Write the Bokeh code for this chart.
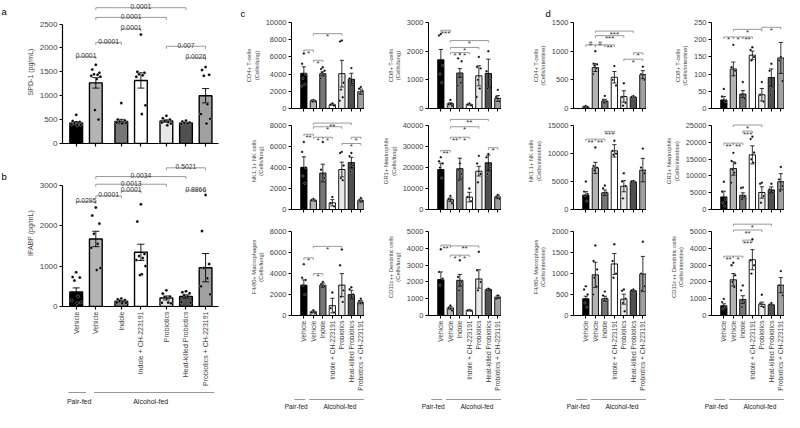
import math
from bokeh.plotting import figure
from bokeh.models import FixedTicker, Range1d, Title
from bokeh.layouts import row, column
from bokeh.embed import file_html
from bokeh.resources import INLINE
from bokeh.core.properties import value

FONT = "Liberation Sans"

# ---------------- shared categories ----------------
treatments = ["Vehicle", "Vehicle", "Indole", "Indole + CH-223191", "Probiotics",
              "Heat-killed Probiotics", "Probiotics + CH-223191"]
diet_names = ["Pair-fed", "Alcohol-fed"]
diet_first = [0, 1]
diet_last = [0, 6]

# ---------------- panel a : SPD-1 ----------------
spd1_ticks = [0, 500, 1000, 1500, 2000, 2500]
spd1_mean = [430, 1270, 460, 1320, 470, 430, 1000]
spd1_sem = [30, 110, 45, 160, 25, 15, 150]
spd1_points = [[600, 470, 450, 430, 420, 400, 390, 380],
               [1650, 1550, 1480, 1450, 1440, 1420, 1400, 1350, 700, 500],
               [850, 500, 480, 460, 450, 440, 430, 420],
               [2280, 1500, 1480, 1450, 1430, 1400, 800, 620],
               [580, 530, 500, 470, 450, 440, 420, 380],
               [480, 460, 440, 430, 420, 410],
               [1600, 1540, 1440, 1420, 820, 620, 520, 420]]
spd1_sig = [(0, 1, "0.0001", 1815), (1, 2, "0.0001", 2117), (2, 3, "0.0001", 2400),
            (1, 4, "0.0001", 2640), (1, 5, "0.0001", 2843), (4, 6, "0.007", 2036),
            (5, 6, "0.0026", 1794)]

# ---------------- panel b : IFABP ----------------
ifabp_ticks = [0, 1000, 2000, 3000]
ifabp_mean = [360, 1670, 130, 1340, 210, 250, 960]
ifabp_sem = [100, 190, 20, 200, 50, 40, 350]
ifabp_points = [[850, 730, 720, 640, 250, 150, 100, 80],
                [2450, 2250, 2050, 1800, 1550, 1450, 950, 900],
                [200, 180, 160, 140, 120, 100, 90, 80],
                [2530, 2100, 1300, 1250, 1200, 1150, 1000, 800, 780],
                [400, 320, 250, 230, 100, 90, 80],
                [380, 350, 330, 280, 250, 110, 90],
                [2760, 1870, 1050, 950, 700, 500, 300]]
ifabp_sig = [(0, 1, "0.0295", 2595), (1, 2, "0.0001", 2738), (2, 3, "0.0001", 2857),
             (1, 4, "0.0013", 3024), (1, 5, "0.0034", 3214), (4, 6, "0.5021", 3430),
             (5, 6, "0.8866", 2880)]

# ---------------- panel c : lung ----------------
cd4_lung_ticks = [0, 2000, 4000, 6000, 8000, 10000]
cd4_lung_mean = [4100, 900, 4050, 450, 4050, 3400, 1950]
cd4_lung_sem = [750, 100, 250, 80, 1550, 700, 300]
cd4_lung_points = [[6400, 5200, 4000, 3500, 2800, 2600], [1000, 900, 850, 800],
                   [4800, 4600, 4400, 4200, 3800, 3500], [600, 450, 350],
                   [7900, 7800, 3000, 2200, 1300, 900], [4700, 3500, 2900, 2600],
                   [2500, 2300, 2000, 1700]]
cd4_lung_sig = [(0, 1, "*", 6800), (1, 2, "*", 5600), (1, 4, "*", 8700)]

cd8_lung_ticks = [0, 1000, 2000, 3000]
cd8_lung_mean = [1700, 170, 1240, 140, 1140, 1220, 350]
cd8_lung_sem = [360, 30, 150, 20, 350, 500, 100]
cd8_lung_points = [[2600, 2550, 1500, 1200, 900], [300, 150, 100],
                   [1900, 1750, 1650, 1200, 900, 800], [180, 140, 110],
                   [1800, 1450, 1400, 1000, 700, 400], [2000, 1300, 1000, 700],
                   [650, 400, 250]]
cd8_lung_sig = [(0, 1, "***", 2730), (1, 2, "*", 1950), (2, 3, "*", 1950),
                (1, 4, "*", 2130), (1, 5, "*", 2370)]

nk_lung_ticks = [0, 2000, 4000, 6000, 8000]
nk_lung_mean = [4030, 900, 3480, 640, 3820, 4480, 850]
nk_lung_sem = [1000, 80, 850, 300, 700, 500, 150]
nk_lung_points = [[6450, 5500, 4000, 3200, 2500], [1000, 900, 800],
                  [6450, 3800, 3000, 2700], [1200, 600, 300],
                  [5500, 5400, 4200, 3000, 2800], [5400, 5100, 4200, 3600],
                  [1100, 900, 800]]
nk_lung_sig = [(0, 1, "**", 7180), (1, 2, "*", 6900), (2, 3, "*", 6900),
               (1, 4, "*", 7900), (1, 5, "**", 8250), (5, 6, "*", 6900), (4, 6, "*", 6300)]

gr1_lung_ticks = [0, 10000, 20000, 30000, 40000]
gr1_lung_mean = [19100, 4700, 19500, 5900, 18300, 22300, 6000]
gr1_lung_sem = [3000, 800, 5000, 2300, 2300, 3600, 800]
gr1_lung_points = [[25000, 23000, 22000, 20000, 15000], [6500, 5000, 3000],
                   [22000, 19000, 17000, 14000], [10000, 6000, 4000],
                   [25600, 22000, 17000, 13000], [26500, 25000, 20000, 17000],
                   [7000, 6000, 5000]]
gr1_lung_sig = [(0, 1, "**", 28200), (1, 2, "**", 34500), (2, 3, "*", 34500),
                (1, 4, "*", 39500), (1, 5, "**", 43000), (5, 6, "*", 29500)]

f480_lung_ticks = [0, 2000, 4000, 6000, 8000]
f480_lung_mean = [2900, 360, 2900, 940, 2900, 2000, 1270]
f480_lung_sem = [500, 60, 200, 700, 1100, 400, 150]
f480_lung_points = [[4900, 3600, 3400, 2900, 2000], [500, 300, 250], [3200, 3000, 2800],
                    [2200, 700, 300], [6300, 4800, 2400, 1800, 1300],
                    [2700, 2500, 2000, 1500], [1600, 1400, 1200]]
f480_lung_sig = [(0, 1, "*", 5500), (1, 2, "*", 4000), (1, 4, "*", 6600)]

cd11c_lung_ticks = [0, 1000, 2000, 3000, 4000, 5000]
cd11c_lung_mean = [2150, 450, 2100, 300, 2180, 1550, 1100]
cd11c_lung_sem = [450, 80, 350, 30, 550, 60, 80]
cd11c_lung_points = [[3950, 2600, 2200, 1800], [600, 450, 300], [3300, 2300, 2000, 1500],
                     [330, 300, 280], [3800, 2700, 2000, 1500], [1600, 1500], [1200, 1000]]
cd11c_lung_sig = [(0, 1, "**", 4200), (1, 2, "*", 3600), (2, 3, "*", 3600), (1, 4, "**", 4150)]

# ---------------- panel d : intestine ----------------
cd4_int_ticks = [0, 500, 1000, 1500]
cd4_int_mean = [30, 715, 130, 545, 210, 200, 590]
cd4_int_sem = [8, 70, 30, 100, 100, 10, 70]
cd4_int_points = [[45, 30, 20], [1000, 780, 770, 750, 700, 600], [220, 150, 120, 100],
                  [740, 500, 400], [440, 200, 100, 50], [220, 200, 190], [730, 600, 500]]
cd4_int_sig = [(0, 1, "#", 1110), (1, 2, "#", 1110), (2, 3, "**", 1110),
               (1, 4, "***", 1270), (1, 5, "***", 1350), (4, 6, "*", 860), (5, 6, "*", 970)]

cd8_int_ticks = [0, 50, 100, 150, 200, 250]
cd8_int_mean = [25, 115, 42, 155, 40, 90, 147]
cd8_int_sem = [10, 20, 10, 12, 18, 25, 45]
cd8_int_points = [[57, 35, 20], [185, 120, 110], [77, 40, 30], [178, 170, 150, 140],
                  [77, 40, 20], [130, 110, 60, 40], [150, 140, 80]]
cd8_int_sig = [(0, 1, "*", 208), (1, 2, "*", 208), (2, 3, "**", 208),
               (1, 4, "*", 230), (4, 6, "*", 236)]

nk_int_ticks = [0, 5000, 10000, 15000]
nk_int_mean = [2600, 7450, 3000, 10500, 4170, 4950, 7050]
nk_int_sem = [600, 1000, 500, 1100, 1000, 150, 2100]
nk_int_points = [[5000, 3200, 2800, 2500, 1500], [11100, 7800, 7500, 7000],
                 [4300, 3800, 3000, 2500], [12300, 10500, 10000, 9800],
                 [6500, 5000, 4200, 2000], [5100, 5000, 4800], [10900, 7500, 6500]]
nk_int_sig = [(0, 1, "**", 12600), (1, 2, "**", 12600), (2, 3, "***", 14000)]

gr1_int_ticks = [0, 5000, 10000, 15000, 20000, 25000]
gr1_int_mean = [3760, 12240, 4240, 16300, 5080, 5850, 8280]
gr1_int_sem = [1700, 2000, 750, 2700, 1700, 900, 2400]
gr1_int_points = [[8300, 5300, 3000, 2000, 1000], [16900, 14500, 13800, 12000, 11000, 8000],
                  [6600, 6400, 4000, 3000], [21700, 21000, 17000, 15000, 14000],
                  [8000, 7700, 4000, 2000], [7700, 6000, 5000], [12700, 9000, 7000, 5500]]
gr1_int_sig = [(0, 1, "**", 19800), (1, 2, "**", 19800), (2, 3, "***", 23400), (1, 4, "*", 25200)]

f480_int_ticks = [0, 500, 1000, 1500, 2000]
f480_int_mean = [400, 970, 400, 1230, 390, 590, 990]
f480_int_sem = [60, 300, 60, 250, 120, 15, 420]
f480_int_points = [[700, 620, 500, 300, 200], [1670, 1300, 1100, 900, 700, 500],
                   [570, 480, 400, 350], [1700, 1300, 1000, 900], [620, 590, 400, 300, 100],
                   [620, 600, 580], [1760, 1000, 700, 600]]
f480_int_sig = []

cd11c_int_ticks = [0, 1000, 2000, 3000, 4000, 5000]
cd11c_int_mean = [580, 2130, 950, 3330, 670, 640, 1810]
cd11c_int_sem = [120, 370, 230, 600, 130, 30, 450]
cd11c_int_points = [[990, 800, 500, 400], [3150, 3000, 2400, 2000, 1700], [1800, 1500, 800, 500],
                    [4550, 3300, 3000, 2500], [1240, 700, 500], [750, 650, 600], [2650, 1800, 1200]]
cd11c_int_sig = [(0, 1, "**", 3540), (1, 2, "*", 3540), (2, 3, "***", 4500),
                 (1, 4, "**", 5100), (1, 5, "*", 5450)]

# ---------------- styling / layout ----------------
BAR_COLORS = ["#000000", "#b4b4b4", "#767676", "#ffffff", "#e8e8e8", "#505050", "#a0a0a0"]
X_WIDE = [0, 1, 2.3, 3.3, 4.6, 5.6, 6.6]
X_NARROW = [0, 1, 2, 3, 4, 5, 6]
JIT = [0.0, -0.28, 0.28, -0.14, 0.14, -0.36, 0.36, 0.07, -0.07, 0.21, -0.21]

BIG = dict(bar_w=0.65, lw=1.4, ew=0.9, cap=0.18, dot=3.0, tick_fs="8px", ylab_fs="7px",
           sig_fs="6.8px", star_fs="8px", cat_fs="7px", tick_len=2.5, axis_w=1.2,
           diet_fs="7px", pair_dx=0.15, pair_pad=(0.4, 0.5), alc_dx=0.0, alc_pad=(0.1, 0.45))
SMALL = dict(bar_w=0.66, lw=0.9, ew=0.8, cap=0.22, dot=2.4, tick_fs="7.5px", ylab_fs="5.8px",
             sig_fs="6.5px", star_fs="8px", cat_fs="6.6px", tick_len=2.0, axis_w=1.0,
             diet_fs="6.6px", pair_dx=-0.8, pair_pad=(1.0, 0.15), alc_dx=0.3, alc_pad=(0.45, 0.4))


def base_fig(w, h, xr, yr, bl=0, br=0, bt=0, bb=0, x_axis=True, y_axis=True):
    kw = {}
    if not x_axis:
        kw["x_axis_type"] = None
    if not y_axis:
        kw["y_axis_type"] = None
    p = figure(width=w, height=h, title=None, output_backend="svg", toolbar_location=None,
               x_range=xr, y_range=yr, min_border_left=bl, min_border_right=br,
               min_border_top=bt, min_border_bottom=bb, **kw)
    p.outline_line_color = None
    p.grid.visible = False
    p.background_fill_color = "white"
    p.border_fill_color = "white"
    return p


def x_range_of(g):
    frame_w = g["w"] - g["bl"] - g["br"]
    return g["x0"], g["x0"] + frame_w / g["ppu"]


def build_panel(xs, mean, sem, pts, sig, ticks, ylabel, g, s, cats=None, letter=None):
    w, h, bl, br, bt, bb = g["w"], g["h"], g["bl"], g["br"], g["bt"], g["bb"]
    frame_h = h - bt - bb
    top = ticks[-1]
    y_end = top * frame_h / g["tick_px"]
    x0, x1 = x_range_of(g)
    p = base_fig(w, h, Range1d(x0, x1), Range1d(0, y_end), bl, br, bt, bb)

    if letter is not None:
        lt, lx = letter
        p.add_layout(Title(text=lt, align="left", offset=lx - bl, standoff=8, text_font=FONT,
                           text_font_size="9.5px", text_font_style="normal",
                           text_color="black"), "above")

    p.vbar(x=xs, bottom=0, top=mean, width=s["bar_w"], fill_color=BAR_COLORS,
           line_color="black", line_width=s["lw"])
    lo = [m - e for m, e in zip(mean, sem)]
    hi = [m + e for m, e in zip(mean, sem)]
    p.segment(x0=xs, y0=lo, x1=xs, y1=hi, line_color="black", line_width=s["ew"])
    c = s["cap"]
    p.segment(x0=[x - c for x in xs] * 2, y0=hi + lo, x1=[x + c for x in xs] * 2, y1=hi + lo,
              line_color="black", line_width=s["ew"])
    dx, dy = [], []
    for i, vals in enumerate(pts):
        for k, v in enumerate(vals):
            dx.append(xs[i] + JIT[k % len(JIT)] * s["bar_w"])
            dy.append(v)
    p.scatter(dx, dy, size=s["dot"], color="black", line_color="white", line_width=0.3)

    tl = s["tick_len"] * y_end / frame_h
    mx, my = [], []
    nx, ny, nt, sx, sy, st = [], [], [], [], [], []
    for i, j, lab, y in sig:
        mx.append([xs[i], xs[i], xs[j], xs[j]])
        my.append([y - tl, y, y, y - tl])
        if lab.startswith("*"):
            sx.append((xs[i] + xs[j]) / 2); sy.append(y); st.append(lab)
        else:
            nx.append((xs[i] + xs[j]) / 2); ny.append(y); nt.append(lab)
    if mx:
        p.multi_line(mx, my, line_color="#808080", line_width=0.8)
    if nx:
        p.text(nx, ny, text=nt, text_font=value(FONT), text_font_size=s["sig_fs"],
               text_align="center", text_baseline="alphabetic", y_offset=-1, text_color="#333333")
    if sx:
        p.text(sx, sy, text=st, text_font=value(FONT), text_font_size=s["star_fs"],
               text_align="center", text_baseline="alphabetic", y_offset=3, text_color="#333333")

    yax = p.yaxis[0]
    yax.ticker = FixedTicker(ticks=ticks)
    yax.bounds = (0, top)
    yax.axis_label = ylabel
    yax.axis_label_text_font = FONT
    yax.axis_label_text_font_size = s["ylab_fs"]
    yax.axis_label_text_font_style = "normal"
    yax.axis_label_standoff = 3
    yax.major_label_text_font = FONT
    yax.major_label_text_font_size = s["tick_fs"]
    yax.major_label_standoff = 2
    yax.major_tick_out = 3
    yax.major_tick_in = 0
    yax.minor_tick_line_color = None
    yax.axis_line_width = s["axis_w"]
    yax.major_tick_line_width = s["axis_w"]

    xax = p.xaxis[0]
    xax.axis_line_width = s["axis_w"]
    if cats:
        xax.ticker = FixedTicker(ticks=xs)
        xax.major_tick_out = 3
        xax.major_tick_in = 0
        xax.minor_tick_line_color = None
        xax.major_tick_line_width = s["axis_w"]
        xax.major_label_overrides = {x: c for x, c in zip(xs, cats)}
        xax.major_label_orientation = math.pi / 2
        xax.major_label_text_font = FONT
        xax.major_label_text_font_size = s["cat_fs"]
        xax.major_label_standoff = 2
    else:
        # tick marks only (drawn as minor ticks, so no empty labels are produced)
        xax.ticker = FixedTicker(ticks=[], minor_ticks=xs)
        xax.minor_tick_out = 3
        xax.minor_tick_in = 0
        xax.minor_tick_line_color = "black"
        xax.minor_tick_line_width = s["axis_w"]
        xax.major_tick_line_color = None
    return p


def diet_fig(xs, g, h, frame_h, standoff, s):
    # same frame as the panel above (columns align frames); labels via the x axis
    x0, x1 = x_range_of(g)
    p = base_fig(g["w"], h, Range1d(x0, x1), Range1d(0, 1), g["bl"], g["br"], 0, h - frame_h,
                 y_axis=False)
    a0, a1 = diet_first
    b0, b1 = diet_last
    lx0 = [xs[a0] - s["pair_pad"][0], xs[a1] - s["alc_pad"][0]]
    lx1 = [xs[b0] + s["pair_pad"][1], xs[b1] + s["alc_pad"][1]]
    p.segment(x0=lx0, y0=[0.5, 0.5], x1=lx1, y1=[0.5, 0.5], line_color="#8c8c8c", line_width=0.9)
    tx = [(xs[a0] + xs[b0]) / 2 + s["pair_dx"], (xs[a1] + xs[b1]) / 2 + s["alc_dx"]]
    xax = p.xaxis[0]
    xax.ticker = FixedTicker(ticks=tx)
    xax.major_label_overrides = {t: n for t, n in zip(tx, diet_names)}
    xax.axis_line_color = None
    xax.major_tick_line_color = None
    xax.minor_tick_line_color = None
    xax.major_tick_out = 0
    xax.major_tick_in = 0
    xax.major_label_standoff = standoff
    xax.major_label_text_font = FONT
    xax.major_label_text_font_size = s["diet_fs"]
    xax.major_label_text_color = "#222222"
    return p


def letter_fig(w, h, letters, lx, ly):
    # panel letters (figure annotations); coordinates are pixel positions in this strip
    p = base_fig(w, h, Range1d(0, w), Range1d(0, h), x_axis=False, y_axis=False)
    p.text(lx, [h - v for v in ly], text=letters, text_font=value(FONT), text_font_size="9.5px",
           text_align="left", text_baseline="alphabetic", text_color="black")
    return p


# geometry (pixels)
GA = dict(w=225, h=159, bl=52, br=17, bt=0, bb=16, tick_px=119.4, x0=-0.7, ppu=19.6)
GB = dict(w=225, h=230, bl=52, br=17, bt=0, bb=83, tick_px=121.3, x0=-0.7, ppu=19.6)
ROW1 = dict(h=112, bt=22, bb=4, tick_px=86.0)
ROW2 = dict(h=102, bt=0, bb=5, tick_px=83.8)
ROW3 = dict(h=183, bt=4, bb=82, tick_px=83.8)
COLS = [dict(w=129, bl=56), dict(w=137, bl=64), dict(w=145, bl=72), dict(w=138, bl=65)]


def g_small(rowg, c):
    g = dict(rowg)
    g.update(COLS[c])
    g.update(br=0, x0=-1.3, ppu=9.5)
    return g


pa = build_panel(X_WIDE, spd1_mean, spd1_sem, spd1_points, spd1_sig, spd1_ticks,
                 "SPD-1 (pg/mL)", GA, BIG)
pb = build_panel(X_WIDE, ifabp_mean, ifabp_sem, ifabp_points, ifabp_sig, ifabp_ticks,
                 "IFABP (pg/mL)", GB, BIG, cats=treatments)
pa_diet = diet_fig(X_WIDE, GB, 23, 6, 2, BIG)
strip_ab = letter_fig(10, 412, ["a", "b"], [1, 1], [11, 176])
col_a = row(strip_ab, column(pa, pb, pa_diet))

small_specs = [
    [(cd4_lung_mean, cd4_lung_sem, cd4_lung_points, cd4_lung_sig, cd4_lung_ticks, "CD4+ T-cells\n(Cells/lung)"),
     (nk_lung_mean, nk_lung_sem, nk_lung_points, nk_lung_sig, nk_lung_ticks, "NK1.1+ NK cells\n(Cells/lung)"),
     (f480_lung_mean, f480_lung_sem, f480_lung_points, f480_lung_sig, f480_lung_ticks, "F4/80+ Macrophages\n(Cells/lung)")],
    [(cd8_lung_mean, cd8_lung_sem, cd8_lung_points, cd8_lung_sig, cd8_lung_ticks, "CD8+ T-cells\n(Cells/lung)"),
     (gr1_lung_mean, gr1_lung_sem, gr1_lung_points, gr1_lung_sig, gr1_lung_ticks, "GR1+ Neutrophils\n(Cells/lung)"),
     (cd11c_lung_mean, cd11c_lung_sem, cd11c_lung_points, cd11c_lung_sig, cd11c_lung_ticks, "CD11c++ Dendritic cells\n(Cells/lung)")],
    [(cd4_int_mean, cd4_int_sem, cd4_int_points, cd4_int_sig, cd4_int_ticks, "CD4+ T-cells\n(Cells/intestine)"),
     (nk_int_mean, nk_int_sem, nk_int_points, nk_int_sig, nk_int_ticks, "NK1.1+ NK cells\n(Cells/intestine)"),
     (f480_int_mean, f480_int_sem, f480_int_points, f480_int_sig, f480_int_ticks, "F4/80+ Macrophages\n(Cells/intestine)")],
    [(cd8_int_mean, cd8_int_sem, cd8_int_points, cd8_int_sig, cd8_int_ticks, "CD8+ T-cells\n(Cells/intestine)"),
     (gr1_int_mean, gr1_int_sem, gr1_int_points, gr1_int_sig, gr1_int_ticks, "GR1+ Neutrophils\n(Cells/intestine)"),
     (cd11c_int_mean, cd11c_int_sem, cd11c_int_points, cd11c_int_sig, cd11c_int_ticks, "CD11c++ Dendritic cells\n(Cells/intestine)")],
]
letters = {0: ("c", 5), 2: ("d", 44)}

columns = [col_a]
for c, specs in enumerate(small_specs):
    figs = []
    for r, (m, e, pts, sg, tk, yl) in enumerate(specs):
        g = g_small([ROW1, ROW2, ROW3][r], c)
        f = build_panel(X_NARROW, m, e, pts, sg, tk, yl, g, SMALL,
                        cats=treatments if r == 2 else None,
                        letter=letters.get(c) if r == 0 else None)
        figs.append(f)
    figs.append(diet_fig(X_NARROW, g_small(ROW3, c), 15, 7, 1, SMALL))
    columns.append(column(*figs))

layout = row(*columns)

open("out.html", "w").write(file_html(layout, INLINE))
